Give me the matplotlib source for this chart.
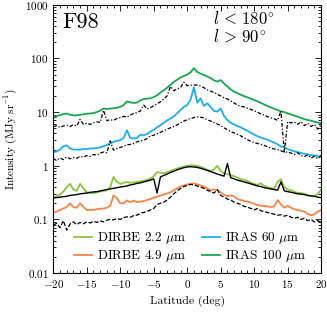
import numpy as np
import matplotlib
matplotlib.use('Agg')
import matplotlib.pyplot as plt
from matplotlib.ticker import MultipleLocator, LogLocator, NullFormatter

plt.rcParams['font.family'] = 'serif'
plt.rcParams['font.serif'] = ['cmr10', 'DejaVu Serif']
plt.rcParams['mathtext.fontset'] = 'cm'
plt.rcParams['axes.unicode_minus'] = False

# galactic latitude grid (deg), 0.5 deg steps
lat = np.arange(-20, 20.01, 0.5)

iras100 = [8.1, 8.4, 8.8, 9.2, 9.4, 8.9, 8.7, 8.7, 8.9, 9.1,
           9.3, 9.4, 9.6, 10.0, 10.6, 11.7, 11.4, 11.6, 11.8, 12.0,
           12.5, 13.5, 15.8, 15.2, 14.8, 15.0, 16.5, 17.5, 17.8, 18.0,
           19.0, 20.5, 23.0, 25.5, 28.5, 32, 36.5, 40, 44, 47,
           50, 55, 66, 56, 52, 49, 46, 43, 39, 37,
           39.5, 34, 30, 26.5, 24, 22.5, 21, 19.8, 18.7, 17.8,
           16.8, 15.8, 14.8, 13.8, 13.0, 12.2, 11.5, 10.9, 10.3, 10.0,
           9.5, 9.0, 8.6, 8.2, 7.8, 7.4, 7.1, 6.9, 6.6, 6.4, 6.2]
iras100_mod = [5.3, 5.6, 5.2, 5.5, 5.7, 5.4, 5.8, 5.5, 7.3, 5.9,
               6.2, 5.9, 6.3, 6.6, 6.4, 10.8, 6.9, 7.2, 7.0, 7.6,
               7.9, 8.3, 8.1, 8.8, 9.4, 9.7, 10.5, 13.5, 11.5, 12.0,
               13.2, 14.3, 15.5, 17.5, 20.0, 30, 25, 27, 28.5, 36,
               31, 31.6, 32, 31.8, 30.5, 28.5, 26, 24.5, 23, 21.5,
               20, 18.5, 17.5, 16.2, 14.8, 13.5, 12.8, 12.5, 11.8, 11.2,
               10.6, 10.0, 9.2, 8.8, 8.2, 7.8, 7.5, 7.0, 10.5, 1.8,
               6.6, 6.3, 6.5, 5.9, 6.6, 5.6, 6.2, 5.4, 5.9, 4.8, 5.8]
iras60 = [1.8, 1.85, 2.0, 2.3, 2.4, 2.1, 2.0, 2.0, 2.0, 2.05,
          2.05, 2.1, 2.1, 2.15, 2.2, 2.3, 2.45, 2.6, 2.8, 2.9,
          3.0, 3.3, 4.6, 3.3, 3.2, 3.3, 3.8, 3.7, 3.9, 4.3,
          4.7, 5.2, 5.7, 6.3, 7.0, 7.6, 8.3, 9.5, 11.0, 12.5,
          13.5, 17, 29, 15, 18, 13, 14.6, 12.5, 10.5, 10.2,
          11.7, 8.5, 7.1, 6.3, 5.9, 5.5, 5.2, 4.8, 4.5, 4.1,
          3.8, 3.55, 3.35, 3.2, 3.05, 2.85, 2.7, 2.5, 2.3, 2.2,
          2.05, 1.95, 1.85, 1.8, 1.72, 1.68, 1.62, 1.58, 1.55, 1.52, 1.48]
iras60_mod = [1.36, 1.25, 1.4, 1.3, 1.45, 1.35, 1.42, 1.38, 1.5, 1.45,
              1.55, 1.5, 1.62, 1.58, 1.72, 1.8, 1.75, 2.9, 1.95, 2.1,
              2.2, 2.3, 2.45, 2.5, 2.6, 2.8, 2.9, 3.0, 3.2, 3.6,
              3.7, 3.95, 4.2, 4.5, 4.8, 5.1, 5.4, 5.8, 6.3, 6.8,
              7.2, 7.6, 7.9, 8.1, 8.0, 7.8, 7.2, 6.8, 6.4, 6.0,
              5.6, 5.1, 4.7, 4.3, 4.1, 3.85, 3.6, 3.3, 3.05, 2.85,
              2.7, 2.6, 2.5, 2.4, 2.25, 2.15, 2.05, 2.0, 1.9, 1.8,
              1.8, 1.72, 1.62, 1.75, 1.55, 1.48, 1.6, 1.4, 1.5, 1.35, 1.55]
dirbe22 = [0.26, 0.27, 0.29, 0.33, 0.40, 0.46, 0.36, 0.34, 0.46, 0.38,
           0.32, 0.31, 0.31, 0.32, 0.33, 0.34, 0.35, 0.40, 0.62, 0.50,
           0.46, 0.48, 0.50, 0.48, 0.49, 0.50, 0.51, 0.53, 0.55, 0.58,
           0.64, 0.76, 0.74, 0.73, 0.76, 0.80, 0.84, 0.89, 0.93, 0.97,
           1.0, 1.02, 1.01, 0.99, 0.96, 0.90, 0.84, 0.80, 0.85, 1.0,
           0.80, 0.72, 0.70, 0.66, 0.64, 0.60, 0.56, 0.55, 0.52, 0.48,
           0.46, 0.44, 0.47, 0.42, 0.40, 0.38, 0.38, 0.50, 0.56, 0.40,
           0.36, 0.35, 0.33, 0.31, 0.31, 0.30, 0.28, 0.27, 0.27, 0.30, 0.36]
dirbe22_mod = [0.25, 0.255, 0.26, 0.265, 0.27, 0.28, 0.285, 0.29, 0.30, 0.305,
               0.31, 0.32, 0.325, 0.33, 0.34, 0.35, 0.36, 0.37, 0.38, 0.39,
               0.40, 0.41, 0.42, 0.44, 0.45, 0.47, 0.48, 0.50, 0.52, 0.54,
               0.57, 0.31, 0.62, 0.66, 0.70, 0.75, 0.79, 0.84, 0.88, 0.92,
               0.95, 0.96, 0.95, 0.93, 0.90, 0.86, 0.82, 0.78, 0.74, 0.70,
               0.67, 0.64, 1.1, 0.60, 0.57, 0.54, 0.52, 0.50, 0.48, 0.46,
               0.44, 0.42, 0.41, 0.39, 0.38, 0.37, 0.36, 0.35, 0.50, 0.34,
               0.33, 0.32, 0.31, 0.30, 0.295, 0.29, 0.28, 0.275, 0.27, 0.26, 0.255]
dirbe49 = [0.135, 0.14, 0.15, 0.16, 0.17, 0.2, 0.17, 0.165, 0.2, 0.17,
           0.15, 0.15, 0.152, 0.155, 0.158, 0.16, 0.165, 0.18, 0.28, 0.25,
           0.2, 0.2, 0.225, 0.21, 0.225, 0.21, 0.215, 0.22, 0.23, 0.24,
           0.255, 0.265, 0.28, 0.29, 0.305, 0.32, 0.35, 0.38, 0.41, 0.43,
           0.45, 0.46, 0.47, 0.45, 0.43, 0.41, 0.38, 0.35, 0.36, 0.35,
           0.32, 0.29, 0.27, 0.28, 0.27, 0.24, 0.23, 0.22, 0.215, 0.205,
           0.195, 0.185, 0.18, 0.178, 0.175, 0.17, 0.175, 0.23, 0.19, 0.165,
           0.18, 0.165, 0.155, 0.15, 0.145, 0.14, 0.125, 0.12, 0.125, 0.14, 0.15]
dirbe49_mod = [0.078, 0.085, 0.07, 0.095, 0.063, 0.082, 0.09, 0.08, 0.088, 0.083,
               0.09, 0.086, 0.092, 0.088, 0.094, 0.09, 0.097, 0.1, 0.098, 0.104,
               0.1, 0.108, 0.112, 0.11, 0.118, 0.12, 0.13, 0.135, 0.14, 0.15,
               0.16, 0.19, 0.2, 0.21, 0.23, 0.26, 0.3, 0.34, 0.38, 0.41,
               0.43, 0.45, 0.44, 0.42, 0.40, 0.38, 0.35, 0.33, 0.31, 0.36,
               0.28, 0.26, 0.24, 0.23, 0.21, 0.2, 0.19, 0.175, 0.17, 0.16,
               0.15, 0.16, 0.145, 0.14, 0.135, 0.13, 0.125, 0.12, 0.122, 0.115,
               0.12, 0.11, 0.105, 0.11, 0.1, 0.105, 0.095, 0.1, 0.09, 0.095, 0.088]

fig = plt.figure(figsize=(3.27, 3.15), dpi=100)
ax = fig.add_axes([0.163, 0.133, 0.819, 0.852])

c100 = '#1aa64e'
c60 = '#1eaef0'
c22 = '#8cc63f'
c49 = '#f7844a'

ax.plot(lat, iras100, color=c100, lw=1.3, label='IRAS 100 $\\mu$m')
ax.plot(lat, iras60, color=c60, lw=1.3, label='IRAS 60 $\\mu$m')
ax.plot(lat, dirbe22, color=c22, lw=1.3, label='DIRBE 2.2 $\\mu$m')
ax.plot(lat, dirbe49, color=c49, lw=1.3, label='DIRBE 4.9 $\\mu$m')
dashdot = (0, (3, 1.5, 1, 1.5))
ax.plot(lat, iras100_mod, color='k', lw=0.9, ls=dashdot)
ax.plot(lat, iras60_mod, color='k', lw=0.9, ls=dashdot)
ax.plot(lat, dirbe22_mod, color='k', lw=1.0, ls='-')
ax.plot(lat, dirbe49_mod, color='k', lw=0.9, ls=(0, (3.5, 1.5)))

ax.set_yscale('log')
ax.set_xlim(-20, 20)
ax.set_ylim(0.01, 1000)

xt = [-20, -15, -10, -5, 0, 5, 10, 15, 20]
ax.set_xticks(xt)
ax.set_xticklabels(['$%d$' % v for v in xt], fontsize=8)
ax.xaxis.set_minor_locator(MultipleLocator(1))
yt = [0.01, 0.1, 1, 10, 100, 1000]
ax.set_yticks(yt)
ax.set_yticklabels(['$0.01$', '$0.1$', '$1$', '$10$', '$100$', '$1000$'], fontsize=8)
ax.yaxis.set_minor_locator(LogLocator(base=10, subs=np.arange(2, 10)))
ax.yaxis.set_minor_formatter(NullFormatter())
ax.tick_params(which='both', direction='in', top=True, right=True, width=0.6)
ax.tick_params(which='major', length=4)
ax.tick_params(which='minor', length=2)
for s in ax.spines.values():
    s.set_linewidth(0.8)

ax.set_xlabel('Latitude (deg)', fontsize=8.5)
ax.set_ylabel('Intensity (MJy sr$^{-1}$)', fontsize=8)

ax.text(0.035, 0.935, 'F98', transform=ax.transAxes, fontsize=16, va='center')
ax.text(0.595, 0.947, '$l\\,<\\,180^{\\circ}$', transform=ax.transAxes, fontsize=12, va='center')
ax.text(0.595, 0.883, '$l\\,>\\,90^{\\circ}$', transform=ax.transAxes, fontsize=12, va='center')

h, l = ax.get_legend_handles_labels()
order = [2, 3, 1, 0]
ax.legend([h[i] for i in order], [l[i] for i in order], ncol=2, frameon=False,
          fontsize=9.5, loc='lower left', bbox_to_anchor=(0.032, -0.012),
          handlelength=1.4, handletextpad=0.35, columnspacing=1.2, labelspacing=0.15)

fig.savefig('out.png', dpi=100)
